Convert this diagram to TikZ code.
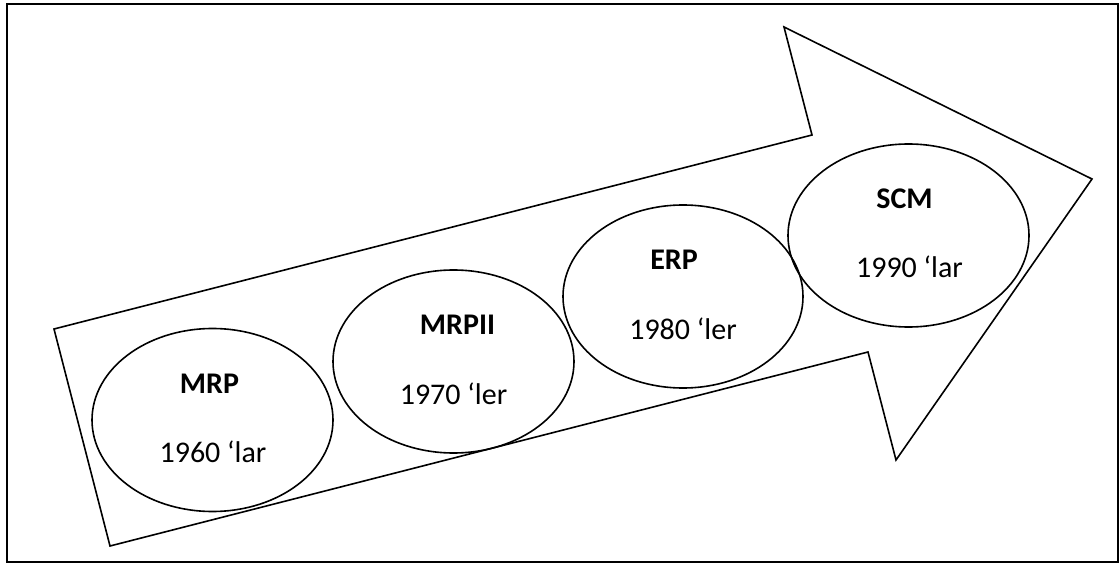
\documentclass[tikz,border=0pt]{standalone}
\usepackage{fontspec}
\setmainfont{Carlito}
\usetikzlibrary{shapes.geometric,calc}

\tikzset{
  frame/.style={line width=2pt},
  outline/.style={line width=1.6pt, line join=miter},
  era/.style={draw, ellipse, line width=1.6pt, inner sep=0pt,
              minimum width=241pt, minimum height=183pt},
  title/.style={anchor=base, font=\fontsize{30}{36}\selectfont\bfseries},
  years/.style={anchor=base, font=\fontsize{30}{36}\selectfont},
}

\begin{document}
\begin{tikzpicture}[x=1pt, y=-1pt]
  \useasboundingbox (0,0) rectangle (1120,564);

  % surrounding frame
  \draw[frame] (7,4) rectangle (1118,562);

  % the big arrow
  \coordinate (tailTop) at (54,329);
  \coordinate (notchTop) at (812,135);
  \coordinate (headTop) at (784,27);
  \coordinate (tip) at (1092,179);
  \coordinate (headBot) at (896,460);
  \coordinate (notchBot) at (868,352);
  \coordinate (tailBot) at (110,546);
  \draw[outline] (tailTop) -- (notchTop) -- (headTop) -- (tip)
    -- (headBot) -- (notchBot) -- (tailBot) -- cycle;

  % the four stages
  \node[era] (mrp)   at (212.5,420)   {};
  \node[era] (mrpii) at (453.5,361.5) {};
  \node[era, minimum width=240pt] (erp) at (683,296.5) {};
  \node[era] (scm)   at (908.5,235.5) {};

  \node[title] (mrpT)   at ($(mrp.center)+(-3,-27)$)   {MRP};
  \node[years] (mrpY)   at ($(mrp.center)+(0.5,42.5)$) {1960 ‘lar};
  \node[title] (mrpiiT) at ($(mrpii.center)+(4,-27)$)  {MRPII};
  \node[years] (mrpiiY) at ($(mrpii.center)+(0,42.5)$) {1970 ‘ler};
  \node[title] (erpT)   at ($(erp.center)+(-9,-27)$)   {ERP};
  \node[years] (erpY)   at ($(erp.center)+(0,42.5)$)   {1980 ‘ler};
  \node[title] (scmT)   at ($(scm.center)+(-4,-27)$)   {SCM};
  \node[years] (scmY)   at ($(scm.center)+(1,42.5)$)   {1990 ‘lar};
\end{tikzpicture}
\end{document}
